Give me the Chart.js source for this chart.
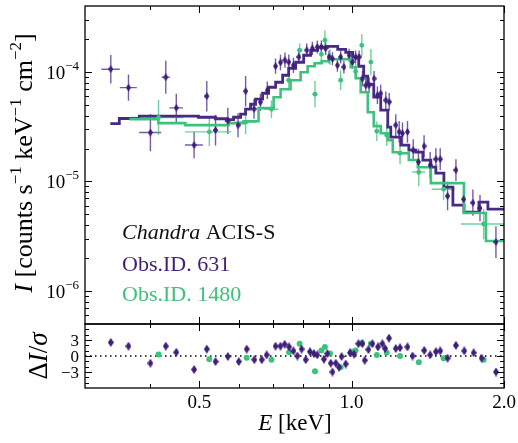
<!DOCTYPE html>
<html>
<head>
<meta charset="utf-8">
<script src="https://cdn.jsdelivr.net/npm/chart.js@4.4.1/dist/chart.umd.min.js"></script>
<style>
  html, body { margin: 0; padding: 0; background: #fff; }
  #wrap { position: relative; width: 518px; height: 443px; }
  #wrap canvas { position: absolute; left: 0; top: 0; }
</style>
</head>
<body>
<div id="wrap">
  <canvas id="specChart" width="518" height="443"></canvas>
  <canvas id="resChart" width="518" height="443"></canvas>
</div>
<script>
// ---- Obs.ID. 631 : data points (keV, counts/s/keV/cm2), y error in dex, x half-width in keV
const E631 = [0.334, 0.362, 0.400, 0.429, 0.450, 0.488, 0.517, 0.538, 0.569, 0.596,
              0.617, 0.641, 0.660, 0.681, 0.707, 0.723, 0.738, 0.751, 0.767,
              0.786, 0.815, 0.836, 0.855, 0.871, 0.888, 0.902, 0.916, 0.937, 0.951,
              0.965, 0.988, 1.003, 1.018, 1.034, 1.050, 1.066, 1.082, 1.107, 1.124,
              1.141, 1.168, 1.186, 1.222, 1.241, 1.260, 1.289, 1.323, 1.355, 1.390,
              1.429, 1.467, 1.496, 1.547, 1.607, 1.664, 1.736, 1.793, 1.928];
const I631 = [1.06e-4, 7.2e-5, 2.8e-5, 8.95e-5, 4.7e-5, 2.15e-5, 6.0e-5, 2.94e-5, 3.57e-5, 3.26e-5,
              6.67e-5, 4.6e-5, 5.3e-5, 6.8e-5, 1.13e-4, 1.22e-4, 1.28e-4, 1.23e-4, 1.15e-4,
              1.37e-4, 1.58e-4, 1.64e-4, 1.69e-4, 1.69e-4, 1.64e-4, 1.37e-4, 1.32e-4, 1.15e-4, 1.37e-4,
              1.11e-4, 1.42e-4, 1.23e-4, 1.37e-4, 1.37e-4, 8.7e-5, 7.56e-5, 7.56e-5, 8.7e-5, 6.13e-5,
              6.35e-5, 5.52e-5, 5.33e-5, 3.27e-5, 2.84e-5, 2.75e-5, 2.84e-5, 1.93e-5, 1.51e-5, 2.10e-5,
              1.41e-5, 1.60e-5, 1.60e-5, 7.36e-6, 1.27e-5, 6.88e-6, 6.4e-6, 5.7e-6, 2.8e-6];
const dI631 = [0.13, 0.12, 0.17, 0.15, 0.13, 0.12, 0.14, 0.14, 0.12, 0.11,
               0.14, 0.09, 0.08, 0.08, 0.07, 0.07, 0.07, 0.07, 0.07,
               0.06, 0.06, 0.06, 0.06, 0.06, 0.06, 0.06, 0.06, 0.06, 0.06,
               0.06, 0.06, 0.06, 0.06, 0.06, 0.07, 0.07, 0.07, 0.07, 0.08,
               0.08, 0.08, 0.08, 0.10, 0.10, 0.10, 0.10, 0.10, 0.12, 0.10,
               0.12, 0.10, 0.10, 0.13, 0.10, 0.12, 0.12, 0.12, 0.145];
const dE631 = [0.014, 0.014, 0.020, 0.008, 0.014, 0.020, 0.006, 0.006, 0.008, 0.006,
               0.005, 0.005, 0.005, 0.005, 0.005, 0.005, 0.005, 0.005, 0.005,
               0.004, 0.004, 0.004, 0.004, 0.004, 0.004, 0.004, 0.004, 0.004, 0.004,
               0.005, 0.005, 0.005, 0.005, 0.005, 0.005, 0.005, 0.005, 0.005, 0.005,
               0.006, 0.006, 0.006, 0.006, 0.006, 0.006, 0.006, 0.006, 0.006, 0.006,
               0.012, 0.012, 0.012, 0.015, 0.015, 0.015, 0.018, 0.018, 0.020];
// folded model, left bin edges (last entry closes the final bin)
const modelE631 = [0.3333, 0.3472, 0.3803, 0.4977, 0.5378, 0.5682, 0.5840, 0.6030, 0.6168, 0.6310,
                   0.6455, 0.6665, 0.6850, 0.7073, 0.7302, 0.7505, 0.7749, 0.8035, 0.8295, 0.8564,
                   0.8964, 0.9382, 0.9730, 1.0046, 1.0325, 1.0562, 1.0758, 1.1055, 1.1412, 1.1783,
                   1.1946, 1.2503, 1.2969, 1.3388, 1.3824, 1.4335, 1.4666, 1.5214, 1.5849, 1.6669,
                   1.7845, 1.8588, 2.0];
const modelI631 = [3.38e-5, 3.76e-5, 3.95e-5, 3.86e-5, 3.74e-5, 3.67e-5, 3.86e-5, 4.12e-5, 4.57e-5, 5.07e-5,
                   5.64e-5, 6.39e-5, 7.25e-5, 8.05e-5, 9.33e-5, 1.081e-4, 1.226e-4, 1.42e-4, 1.577e-4, 1.68e-4,
                   1.715e-4, 1.61e-4, 1.512e-4, 1.361e-4, 1.127e-4, 9.14e-5, 7.72e-5, 5.88e-5, 4.48e-5, 3.13e-5,
                   2.54e-5, 2.15e-5, 1.93e-5, 1.85e-5, 1.57e-5, 1.35e-5, 1.19e-5, 8.89e-6, 6.09e-6, 5.26e-6,
                   6.49e-6, 5.60e-6, 5.60e-6];

// ---- Obs.ID. 1480
const E1480 = [0.415, 0.523, 0.617, 0.694, 0.751, 0.789, 0.846, 0.871, 0.885, 0.906,
               0.951, 1.003, 1.018, 1.047, 1.091, 1.121, 1.173, 1.246, 1.357, 1.519, 1.823];
const I1480 = [3.84e-5, 2.84e-5, 3.48e-5, 4.57e-5, 8.4e-5, 1.58e-4, 6.26e-5, 1.45e-4, 1.95e-4, 1.37e-4,
               8.4e-5, 1.28e-4, 1.01e-4, 1.75e-4, 1.23e-4, 2.88e-5, 2.65e-5, 1.81e-5, 1.22e-5, 8.5e-6, 4.09e-6];
const dI1480 = [0.16, 0.13, 0.11, 0.08, 0.08, 0.06, 0.12, 0.07, 0.09, 0.07,
                0.09, 0.07, 0.07, 0.10, 0.12, 0.09, 0.10, 0.10, 0.13, 0.10, 0.14];
const dE1480 = [0.050, 0.055, 0.030, 0.022, 0.010, 0.010, 0.010, 0.006, 0.006, 0.006,
                0.008, 0.006, 0.006, 0.008, 0.008, 0.010, 0.010, 0.015, 0.040, 0.080, 0.180];
const modelE1480 = [0.3634, 0.4148, 0.4690, 0.5708, 0.6113, 0.6544, 0.7008, 0.7235, 0.7571, 0.7925,
                    0.8182, 0.8447, 0.8722, 0.9005, 0.9954, 1.0184, 1.0418, 1.0758, 1.1055, 1.1412,
                    1.1783, 1.2055, 1.2503, 1.2969, 1.3511, 1.4335, 1.6669, 1.8423, 2.0];
const modelI1480 = [3.71e-5, 3.41e-5, 3.27e-5, 3.41e-5, 3.55e-5, 4.67e-5, 5.88e-5, 6.96e-5, 8.4e-5, 9.94e-5,
                    1.127e-4, 1.20e-4, 1.252e-4, 1.306e-4, 1.104e-4, 8.76e-5, 6.53e-5, 4.29e-5, 3.20e-5, 2.76e-5,
                    2.38e-5, 1.85e-5, 1.81e-5, 1.57e-5, 1.35e-5, 9.67e-6, 5.15e-6, 2.86e-6, 2.86e-6];

// ---- residuals (data - model) / sigma
const resE631 = [0.334, 0.362, 0.400, 0.429, 0.450, 0.488, 0.517, 0.538, 0.569, 0.598,
                 0.620, 0.642, 0.664, 0.679, 0.707, 0.723, 0.737, 0.752, 0.767, 0.781,
                 0.796, 0.811, 0.827, 0.842, 0.855, 0.881, 0.895, 0.909, 0.916, 0.930,
                 0.944, 0.955, 0.973, 0.992, 1.011, 1.031, 1.050, 1.061, 1.079, 1.099,
                 1.127, 1.150, 1.164, 1.185, 1.222, 1.246, 1.289, 1.319, 1.391, 1.429,
                 1.467, 1.496, 1.547, 1.607, 1.669, 1.742, 1.806, 1.928];
const res631 = [2.55, 1.85, -1.35, 1.85, 0.7, -2.55, 1.3, -1.05, -0.1, -1.05,
                1.3, -0.7, -0.7, 0.2, 1.85, 1.85, 2.2, 1.7, 0.95, 0,
                1.3, -0.7, 0.8, 0.45, 0.2, -0.6, 0.45, -1.35, -3.0, -1.35,
                -2.1, -0.1, -1.5, 0.6, 0.35, 2.3, 2.3, -0.8, 1.2, 2.3,
                1.7, 2.3, 1.4, 3.35, 1.4, 1.55, 1.7, 0, 1.05, 0.2,
                0.8, 0.95, -0.4, 2.0, 0.95, 0.6, -0.4, -3.0];
const resE1480 = [0.415, 0.523, 0.620, 0.694, 0.752, 0.789, 0.846, 0.871, 0.885, 0.906,
                  0.951, 1.003, 1.018, 1.047, 1.091, 1.121, 1.173, 1.246, 1.357, 1.519, 1.823];
const res1480 = [0.3, -0.6, -0.35, -0.7, 0.7, 2.3, -2.85, 1.05, 1.7, 0.45,
                 -2.1, 0.8, 1.05, 2.45, 2.3, 0.2, 0.6, 0, -1.15, -0.4, -0.7];

// ---- axes
const xMin = 0.297, xMax = 2.0;
const yMin = 5e-7, yMax = 4e-4;
const rMin = -6, rMax = 6;
const xMajorTicks = [0.5, 1.0, 2.0];
const xTickLabels = ['0.5', '1.0', '2.0'];
const xMinorTicks = [0.4, 0.6, 0.7, 0.8, 0.9];
const yMajorTicks = [1e-6, 1e-5, 1e-4];
const yTickExp = ['\u22126', '\u22125', '\u22124'];
const yMinorTicks = [6e-7, 7e-7, 8e-7, 9e-7,
                     2e-6, 3e-6, 4e-6, 5e-6, 6e-6, 7e-6, 8e-6, 9e-6,
                     2e-5, 3e-5, 4e-5, 5e-5, 6e-5, 7e-5, 8e-5, 9e-5,
                     2e-4, 3e-4];
const rMajorTicks = [-3, 0, 3];
const rTickLabels = ['\u22123', '0', '3'];
const rMinorTicks = [-5, -4, -2, -1, 1, 2, 4, 5];

const PURPLE = '#3f1f7a';
const PURPLE_ERR = 'rgba(70, 40, 130, 0.75)';
const PURPLE_LINE = '#472a84';
const GREEN = '#3cc27c';
const GREEN_ERR = 'rgba(60, 194, 124, 0.75)';
const SERIF = '"Liberation Serif", "Times New Roman", serif';

const font = (size, italic) => (italic ? 'italic ' : '') + size + 'px ' + SERIF;
const pts = (xs, ys) => xs.map((x, i) => ({ x: x, y: ys[i] }));

// thin diamond marker like matplotlib 'd'
function thinDiamond(w, h, color) {
    const c = document.createElement('canvas');
    c.width = w; c.height = h;
    const g = c.getContext('2d');
    g.fillStyle = color;
    g.beginPath();
    g.moveTo(w / 2, 0); g.lineTo(w, h / 2); g.lineTo(w / 2, h); g.lineTo(0, h / 2);
    g.closePath();
    g.fill();
    return c;
}

function drawRich(ctx, parts, x, y, align, color) {
    let total = 0;
    parts.forEach(p => { ctx.font = p.f; total += ctx.measureText(p.t).width; });
    let cx = align === 'right' ? x - total : align === 'center' ? x - total / 2 : x;
    ctx.fillStyle = color || '#000';
    ctx.textAlign = 'left';
    ctx.textBaseline = 'alphabetic';
    parts.forEach(p => {
        ctx.font = p.f;
        ctx.fillText(p.t, cx, y + (p.dy || 0));
        cx += ctx.measureText(p.t).width;
    });
}

function drawFrameTicks(chart, yMaj, yMin_) {
    const { ctx, chartArea: a, scales: { x, y } } = chart;
    ctx.save();
    ctx.strokeStyle = '#000';
    ctx.lineWidth = 1;
    ctx.beginPath();
    const vt = (v, len) => {
        const p = Math.round(x.getPixelForValue(v)) + 0.5;
        ctx.moveTo(p, a.top); ctx.lineTo(p, a.top + len);
        ctx.moveTo(p, a.bottom); ctx.lineTo(p, a.bottom - len);
    };
    const ht = (v, len) => {
        const p = Math.round(y.getPixelForValue(v)) + 0.5;
        ctx.moveTo(a.left, p); ctx.lineTo(a.left + len, p);
        ctx.moveTo(a.right, p); ctx.lineTo(a.right - len, p);
    };
    xMajorTicks.forEach(v => vt(v, 7));
    xMinorTicks.forEach(v => vt(v, 4));
    yMaj.forEach(v => ht(v, 7));
    yMin_.forEach(v => ht(v, 4));
    ctx.stroke();
    ctx.lineWidth = 1.3;
    ctx.strokeRect(a.left, a.top, a.right - a.left, a.bottom - a.top);
    ctx.restore();
}

const errorBarPlugin = {
    id: 'errorBars',
    beforeDatasetsDraw(chart) {
        const { ctx, chartArea: a, scales: { x, y } } = chart;
        ctx.save();
        ctx.beginPath();
        ctx.rect(a.left, a.top, a.right - a.left, a.bottom - a.top);
        ctx.clip();
        chart.data.datasets.forEach(ds => {
            if (!ds.errY) return;
            ctx.strokeStyle = ds.errColor;
            ctx.lineWidth = 1.4;
            ctx.beginPath();
            ds.data.forEach((p, i) => {
                const px = x.getPixelForValue(p.x);
                const py = y.getPixelForValue(p.y);
                const f = Math.pow(10, ds.errY[i]);
                ctx.moveTo(px, y.getPixelForValue(p.y / f));
                ctx.lineTo(px, y.getPixelForValue(p.y * f));
                ctx.moveTo(x.getPixelForValue(p.x - ds.errX[i]), py);
                ctx.lineTo(x.getPixelForValue(p.x + ds.errX[i]), py);
            });
            ctx.stroke();
        });
        ctx.restore();
    }
};

const specDecor = {
    id: 'specDecor',
    afterDraw(chart) {
        const { ctx, scales: { y } } = chart;
        drawFrameTicks(chart, yMajorTicks, yMinorTicks);
        ctx.save();
        yMajorTicks.forEach((v, i) => {
            const p = y.getPixelForValue(v);
            drawRich(ctx, [{ t: '10', f: font(19) }, { t: yTickExp[i], f: font(13), dy: -9 }], 79, p + 7, 'right');
        });
        // y title
        ctx.save();
        ctx.translate(32, 163);
        ctx.rotate(-Math.PI / 2);
        drawRich(ctx, [
            { t: 'I', f: font(26, true) },
            { t: ' [counts s', f: font(26) },
            { t: '\u22121', f: font(17), dy: -11 },
            { t: ' keV', f: font(26) },
            { t: '\u22121', f: font(17), dy: -11 },
            { t: ' cm', f: font(26) },
            { t: '\u22122', f: font(17), dy: -11 },
            { t: ']', f: font(26) }
        ], 0, 0, 'center');
        ctx.restore();
        // legend text
        drawRich(ctx, [{ t: 'Chandra', f: font(22, true) }, { t: ' ACIS-S', f: font(22) }], 122, 239, 'left', '#111');
        drawRich(ctx, [{ t: 'Obs.ID. 631', f: font(22) }], 122, 271, 'left', PURPLE);
        drawRich(ctx, [{ t: 'Obs.ID. 1480', f: font(22) }], 122, 301, 'left', GREEN);
        ctx.restore();
    }
};

const resDecor = {
    id: 'resDecor',
    afterDraw(chart) {
        const { ctx, chartArea: a, scales: { x, y } } = chart;
        drawFrameTicks(chart, rMajorTicks, rMinorTicks);
        ctx.save();
        rMajorTicks.forEach((v, i) => {
            drawRich(ctx, [{ t: rTickLabels[i], f: font(17) }], 79, y.getPixelForValue(v) + 6, 'right');
        });
        xMajorTicks.forEach((v, i) => {
            drawRich(ctx, [{ t: xTickLabels[i], f: font(19) }], x.getPixelForValue(v), a.bottom + 20, 'center');
        });
        drawRich(ctx, [{ t: 'E', f: font(23, true) }, { t: ' [keV]', f: font(23) }], 295, 430, 'center');
        ctx.save();
        ctx.translate(47, 356);
        ctx.rotate(-Math.PI / 2);
        drawRich(ctx, [
            { t: '\u0394', f: font(27) },
            { t: 'I', f: font(27, true) },
            { t: '/', f: font(27) },
            { t: '\u03c3', f: font(27, true) }
        ], 0, 0, 'center');
        ctx.restore();
        ctx.restore();
    }
};

const baseOptions = (padding, yScale) => ({
    responsive: false,
    animation: false,
    events: [],
    layout: { padding: padding },
    plugins: { legend: { display: false }, tooltip: { enabled: false } },
    scales: {
        x: { type: 'logarithmic', min: xMin, max: xMax, display: false },
        y: Object.assign({ display: false }, yScale)
    }
});

const specChart = new Chart(document.getElementById('specChart'), {
    type: 'scatter',
    data: {
        datasets: [
            { label: 'Obs.ID. 631', data: pts(E631, I631), pointStyle: thinDiamond(5, 8, PURPLE),
              pointRadius: 4, errX: dE631, errY: dI631, errColor: PURPLE_ERR, order: 0 },
            { label: 'Obs.ID. 1480', data: pts(E1480, I1480), pointStyle: 'circle', pointRadius: 2.4,
              backgroundColor: GREEN, borderWidth: 0, errX: dE1480, errY: dI1480, errColor: GREEN_ERR, order: 1 },
            { type: 'line', data: pts(modelE631, modelI631), stepped: true, borderColor: PURPLE_LINE,
              borderWidth: 2.8, pointRadius: 0, fill: false, order: 3 },
            { type: 'line', data: pts(modelE1480, modelI1480), stepped: true, borderColor: GREEN,
              borderWidth: 2.6, pointRadius: 0, fill: false, order: 2 }
        ]
    },
    options: baseOptions({ left: 85, right: 14, top: 6, bottom: 119 },
                         { type: 'logarithmic', min: yMin, max: yMax }),
    plugins: [errorBarPlugin, specDecor]
});

const resChart = new Chart(document.getElementById('resChart'), {
    type: 'scatter',
    data: {
        datasets: [
            { data: pts(resE631, res631), pointStyle: thinDiamond(6, 9, PURPLE), pointRadius: 4.5, order: 0 },
            { data: pts(resE1480, res1480), pointStyle: 'circle', pointRadius: 3,
              backgroundColor: GREEN, borderWidth: 0, order: 1 },
            { type: 'line', data: [{ x: xMin, y: 0 }, { x: xMax, y: 0 }], borderColor: '#000',
              borderWidth: 1.5, borderDash: [1.5, 3.5], pointRadius: 0, fill: false, order: 2 }
        ]
    },
    options: baseOptions({ left: 85, right: 14, top: 324, bottom: 55 },
                         { type: 'linear', min: rMin, max: rMax }),
    plugins: [resDecor]
});
</script>
</body>
</html>
